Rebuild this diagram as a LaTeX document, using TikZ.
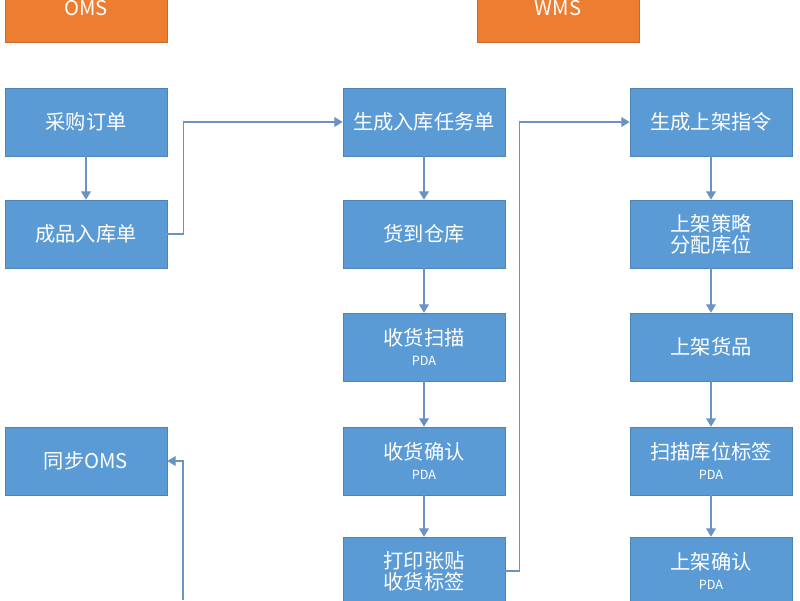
\documentclass[tikz,border=0pt]{standalone}
\usepackage{fontspec}
\setmainfont{Noto Sans CJK SC}
\usetikzlibrary{positioning,arrows.meta}
\definecolor{boxblue}{HTML}{5B9BD5}
\definecolor{headorange}{HTML}{ED7D31}
\definecolor{linkblue}{HTML}{6A93C4}
\tikzset{
  flowbox/.style={fill=boxblue,draw=boxblue!85!black,text=white,minimum width=4.05cm,
    minimum height=1.7cm,align=center,font=\Large,inner sep=0pt},
  head/.style={flowbox,fill=headorange,draw=headorange!85!black},
  link/.style={draw=linkblue,line width=1pt,-{Triangle[length=6pt,width=7pt]}}
}
\begin{document}
\begin{tikzpicture}[x=0.025cm,y=-0.025cm]
\useasboundingbox (0,0) rectangle (800,600);
% headers
\node[head] (oms) at (86,8) {\raisebox{-1pt}{OMS}};
\node[head] (wms) at (558,8) {\raisebox{-1pt}{WMS}};
% OMS column
\node[flowbox] (po) at (86,122) {采购订单};
\node[flowbox] (gr) at (86,234) {成品入库单};
\node[flowbox] (sync) at (86,461) {同步OMS};
% receiving column
\node[flowbox] (task) at (424,122) {生成入库任务单};
\node[flowbox] (arrive) at (424,234) {货到仓库};
\node[flowbox] (scan) at (424,347) {收货扫描\\[-4pt]{\small PDA}};
\node[flowbox] (confirm) at (424,461) {收货确认\\[-4pt]{\small PDA}};
\node[flowbox] (label) at (424,571) {打印张贴\\[-3pt]收货标签};
% putaway column
\node[flowbox] (order) at (711,122) {生成上架指令};
\node[flowbox] (strat) at (711,234) {上架策略\\[-3pt]分配库位};
\node[flowbox] (shelf) at (711,347) {上架货品};
\node[flowbox] (loc) at (711,461) {扫描库位标签\\[-4pt]{\small PDA}};
\node[flowbox] (done) at (711,571) {上架确认\\[-4pt]{\small PDA}};
\coordinate (feed) at (183,600);
% connectors
\draw[link] (po) -- (gr);
\draw[link] (gr.east) -- ++(16,0) |- (task.west);
\foreach \a/\b in {task/arrive,arrive/scan,scan/confirm,confirm/label,
                   order/strat,strat/shelf,shelf/loc,loc/done}
  \draw[link] (\a) -- (\b);
\draw[link] (label.east) -- ++(14,0) |- (order.west);
\draw[link] (feed) |- (sync.east);
\end{tikzpicture}
\end{document}
